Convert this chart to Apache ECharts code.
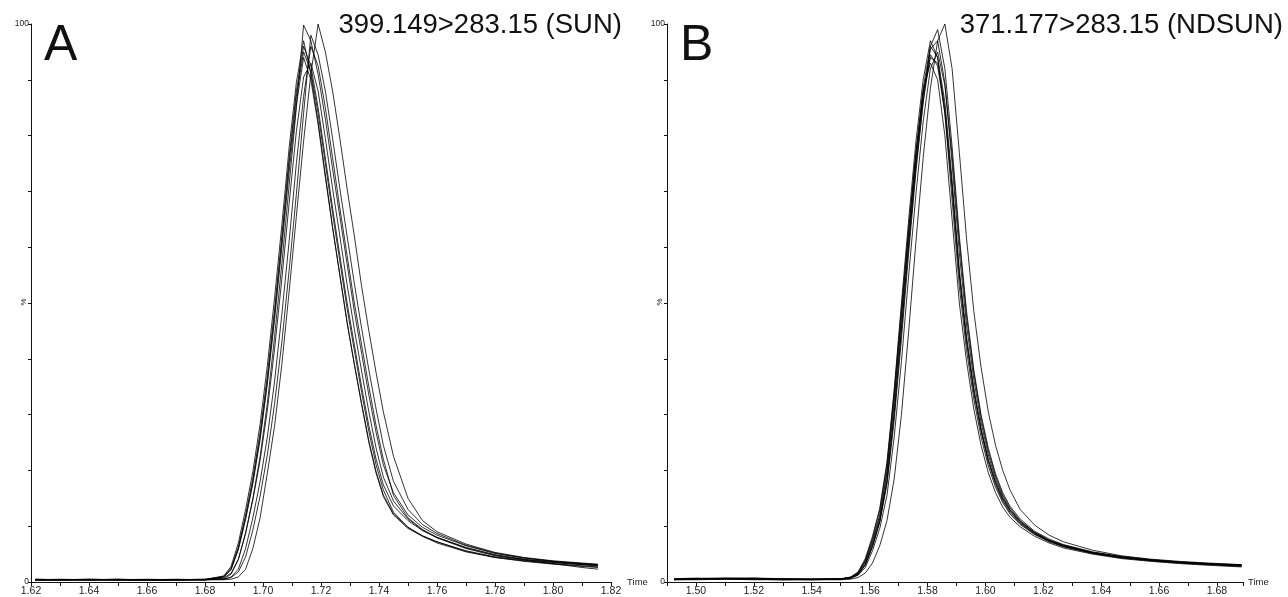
<!DOCTYPE html>
<html><head><meta charset="utf-8">
<script src="https://cdn.jsdelivr.net/npm/echarts@6/dist/echarts.min.js"></script>
<style>html,body{margin:0;padding:0;background:#fff}#c{width:1288px;height:597px}</style>
</head><body><div id="c"></div>
<script>
// ---- Panel A: 399.149>283.15 (SUN) ----
const timeA = [1.6215,1.63,1.64,1.65,1.66,1.67,1.68,1.6865,1.689,1.6915,1.694,1.6965,1.699,1.7015,1.704,1.7065,1.709,1.7115,1.714,1.7165,1.719,1.7215,1.724,1.7265,1.729,1.7315,1.734,1.7365,1.739,1.7415,1.745,1.75,1.755,1.76,1.77,1.78,1.79,1.80,1.81,1.8155];
const traceA1 = [0.4,0.5,0.4,0.5,0.3,0.4,0.4,0.9,2.2,5.8,11.2,17.6,25.5,35.5,47,60,73.5,85.5,94,90,82,72.5,63.5,55,46.5,39,32,25.3,19.8,15.6,12.2,9.8,8.3,7.2,5.6,4.5,3.9,3.3,2.9,2.7];
const traceA2 = [0.5,0.4,0.5,0.4,0.5,0.4,0.5,1.0,2.5,6.3,12,18.6,26.8,37,49,62,76,88,96,92.5,85,76,67,58.5,50,42.5,35,28,22,17.4,13.6,11,9.2,8.0,6.2,4.9,4.1,3.6,3.2,3.0];
const traceA3 = [0.4,0.4,0.5,0.4,0.4,0.5,0.4,0.7,1.6,4.1,8.7,14.7,21.8,30.8,41.8,54.3,67.8,80.7,90.5,93,88,79.5,70.5,62,53.3,45.3,37.8,30.5,24,18.8,14.5,11.3,9.3,7.9,6.0,4.7,4.0,3.5,3.1,2.9];
const traceA4 = [0.3,0.4,0.4,0.3,0.4,0.3,0.4,1.1,2.8,7,13,19.8,28.3,38.8,51,64,77.8,89.5,97,91,82.5,73,63.5,55,46.5,39,31.8,25,19.5,15.3,12,9.6,8.2,7.2,5.5,4.4,3.7,3.2,2.8,2.6];
const traceA5 = [0.5,0.4,0.4,0.5,0.4,0.4,0.5,0.9,2.3,6,11.5,18,26,36,48,61,75,87,95,91.5,84,75,66,57.5,49,41.5,34,27,21,16.5,12.5,9.8,8.2,7.0,5.4,4.4,3.8,3.3,2.6,2.3];
const traceA6 = [0.4,0.4,0.4,0.4,0.4,0.4,0.4,0.5,0.9,2.3,6,11.5,18,26,36,48,61,75,87,96,92.5,85,76,67,58.5,50,42.5,35,28,22,15.5,11.5,9.4,8.0,6.1,4.8,4.0,3.5,3.1,2.9];
const traceA7 = [0.3,0.4,0.3,0.4,0.3,0.4,0.4,0.6,1.4,4.0,8.8,15,22.5,32,44,57,71,85,99.8,97,91,83,74,65.5,57,48.5,41,33.5,26.8,21,16,12,9.8,8.4,6.5,5.1,4.3,3.7,3.3,3.1];
const traceA8 = [0.4,0.4,0.4,0.4,0.4,0.4,0.4,0.4,0.5,0.9,2.3,6,11.5,19.5,28,39,52,65.5,79,91,100,95,88,79.5,70.5,62,53,45,37.5,30.5,22.5,15,11,9.0,6.8,5.3,4.4,3.8,3.4,3.2];
const traceA9 = [0.4,0.3,0.4,0.4,0.3,0.4,0.4,0.5,0.8,1.8,4.5,9.3,15.4,22.8,32,43,55.8,69.5,84,98,94.5,88,79.5,70.5,62,53.5,45.5,38,31,24.5,18,13,10.3,8.7,6.6,5.2,4.3,3.7,3.3,3.1];

// ---- Panel B: 371.177>283.15 (NDSUN) ----
const timeB = [1.4925,1.50,1.51,1.52,1.53,1.54,1.55,1.5535,1.556,1.5585,1.561,1.5635,1.566,1.5685,1.571,1.5735,1.576,1.5785,1.581,1.5835,1.586,1.5885,1.591,1.5935,1.596,1.5985,1.601,1.6035,1.606,1.6085,1.612,1.617,1.622,1.627,1.637,1.647,1.657,1.667,1.677,1.6885];
const traceB1 = [0.5,0.6,0.7,0.6,0.5,0.5,0.6,0.8,1.5,3.5,7,11.5,19.5,32,47,62,76,87.5,94,93,85,71,55,43,34,27,21.5,17.5,14.5,12.5,10.5,8.6,7.3,6.4,5.2,4.4,3.9,3.5,3.2,2.9];
const traceB2 = [0.6,0.7,0.6,0.7,0.5,0.4,0.5,0.9,1.8,4.2,8.2,13.2,21.5,34.5,50,65,79,90,97,94,84,68.5,53,41.5,32.8,26,20.8,17,14.2,12.2,10.3,8.5,7.2,6.3,5.1,4.3,3.8,3.4,3.1,2.8];
const traceB3 = [0.5,0.5,0.6,0.5,0.4,0.5,0.5,0.7,1.2,2.6,5.6,9.6,15.5,26,39.5,55,69.5,82.5,92,95,89,76.5,61,47.5,37.5,29.5,23.5,19,15.6,13.3,11,8.9,7.5,6.6,5.3,4.5,4.0,3.6,3.3,3.0];
const traceB4 = [0.4,0.6,0.6,0.5,0.6,0.5,0.5,0.9,1.7,3.9,7.8,12.8,21,34,49,63.5,77,88,93,90,80,65,50,39.5,31,24.5,19.6,16,13.4,11.6,9.9,8.2,7.0,6.1,5.0,4.2,3.7,3.3,3.0,2.7];
const traceB5 = [0.5,0.6,0.7,0.7,0.6,0.5,0.5,0.8,1.6,3.7,7.4,12,20,33,48,63,77,88.5,96,94,86,72,56,44,34.8,27.6,22,18,15,12.9,10.8,8.8,7.4,6.5,5.2,4.4,3.9,3.5,3.2,2.9];
const traceB6 = [0.4,0.5,0.5,0.5,0.4,0.4,0.5,0.7,1.3,3.0,6.3,10.7,17.5,29,43.5,59,73.5,86,96,99,92,78,62,48.5,38,30,24,19.4,16,13.6,11.3,9.1,7.7,6.7,5.4,4.6,4.0,3.6,3.3,3.1];
const traceB7 = [0.4,0.4,0.5,0.4,0.4,0.4,0.4,0.5,0.8,1.6,3.4,6.5,11,18.5,30,45,61,76,88.5,97,100,92,77,61.5,48.5,38.5,30.5,24.5,20,16.5,13,10.2,8.4,7.2,5.7,4.7,4.1,3.7,3.4,3.1];
const traceB8 = [0.5,0.5,0.6,0.6,0.5,0.5,0.5,0.7,1.3,3.1,6.4,10.8,18.3,30.5,45.5,60.5,74.5,86,94.5,92.5,84,70.5,55,43.3,34.2,27.2,21.8,17.8,14.8,12.7,10.6,8.7,7.4,6.4,5.2,4.4,3.9,3.5,3.2,3.0];
const traceB9 = [0.6,0.6,0.6,0.6,0.5,0.5,0.6,0.8,1.4,3.2,6.6,11,18,30,45,60.5,75,87.5,95.5,97,89.5,75,59,46,36.3,28.6,22.8,18.5,15.3,13,10.9,8.9,7.5,6.6,5.3,4.5,3.9,3.5,3.2,3.0];

const yLabelValues = [0, 100];
const titleA = '399.149>283.15 (SUN)';
const titleB = '371.177>283.15 (NDSUN)';
const panelA = 'A', panelB = 'B';
const yName = '%';

const FONT = '"Liberation Sans", Arial, Helvetica, sans-serif';
const tracesA = [traceA1,traceA2,traceA3,traceA4,traceA5,traceA6,traceA7,traceA8,traceA9];
const tracesB = [traceB1,traceB2,traceB3,traceB4,traceB5,traceB6,traceB7,traceB8,traceB9];

function mkX(idx, min, max) {
  return {
    type: 'value', gridIndex: idx, min: min, max: max, interval: 0.01,
    name: 'Time', nameLocation: 'end', nameGap: 5,
    nameTextStyle: {fontFamily: FONT, fontSize: 9.5, color: '#222', verticalAlign: 'middle'},
    axisLine: {onZero: false, lineStyle: {color: '#111', width: 1}},
    axisTick: {show: true, length: 4, lineStyle: {color: '#111', width: 1}},
    splitLine: {show: false},
    axisLabel: {
      fontFamily: FONT, fontSize: 10.5, color: '#222', margin: 4,
      showMinLabel: true, showMaxLabel: true,
      formatter: function (v) { const k = Math.round(v * 100); return (k % 2 === 0 && Math.abs(v * 100 - k) < 1e-6) ? v.toFixed(2) : ''; }
    }
  };
}
function mkY(idx) {
  return {
    type: 'value', gridIndex: idx, min: 0, max: 100, interval: 10,
    axisLine: {show: true, lineStyle: {color: '#111', width: 1}},
    axisTick: {show: true, length: 3, lineStyle: {color: '#111', width: 1}},
    splitLine: {show: false},
    axisLabel: {
      fontFamily: FONT, fontSize: 8.5, color: '#222', margin: 2,
      formatter: function (v) { return yLabelValues.indexOf(v) >= 0 ? String(v) : ''; }
    }
  };
}
const series = [];
tracesA.forEach(function (tr) {
  series.push({type: 'line', xAxisIndex: 0, yAxisIndex: 0, showSymbol: false, symbol: 'none', silent: true,
    lineStyle: {color: '#000', width: 0.8}, data: timeA.map(function (t, i) { return [t, tr[i]]; })});
});
tracesB.forEach(function (tr) {
  series.push({type: 'line', xAxisIndex: 1, yAxisIndex: 1, showSymbol: false, symbol: 'none', silent: true,
    lineStyle: {color: '#000', width: 0.8}, data: timeB.map(function (t, i) { return [t, tr[i]]; })});
});

function txt(s, x, y, size, align, rot) {
  return {type: 'text', x: x, y: y, rotation: rot || 0,
    style: {text: s, font: size + 'px ' + FONT, fill: '#111', align: align, textAlign: align, verticalAlign: 'middle', textVerticalAlign: 'middle'}};
}

const chart = echarts.init(document.getElementById('c'));
chart.setOption({
  animation: false,
  backgroundColor: '#fff',
  grid: [
    {left: 31, top: 24, width: 580, bottom: 15},
    {left: 667, top: 24, width: 576, bottom: 15}
  ],
  xAxis: [mkX(0, 1.62, 1.82), mkX(1, 1.49, 1.689)],
  yAxis: [mkY(0), mkY(1)],
  series: series,
  graphic: [
    txt(titleA, 622, 25, 27.5, 'right'),
    txt(titleB, 1283, 25, 27.5, 'right'),
    txt(panelA, 44, 46, 50, 'left'),
    txt(panelB, 680, 46, 50, 'left'),
    txt(yName, 24, 302, 8, 'center', Math.PI / 2),
    txt(yName, 660, 302, 8, 'center', Math.PI / 2)
  ]
});
</script></body></html>
